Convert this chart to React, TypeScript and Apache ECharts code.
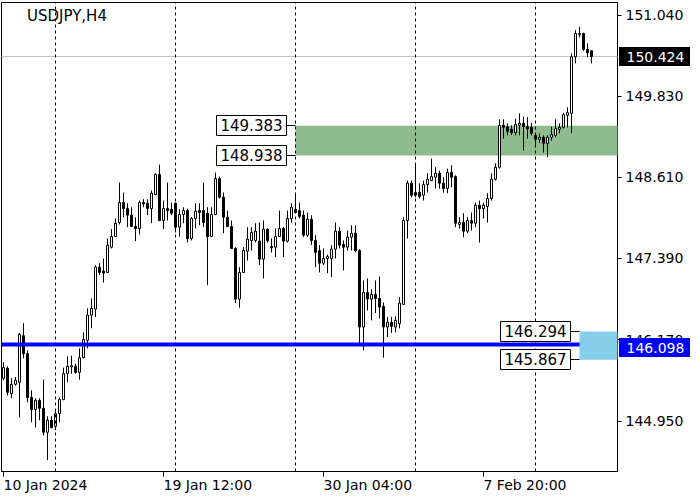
import React, { useEffect, useRef } from "react";
import * as echarts from "echarts";

const chartTitle = "USDJPY,H4";
const barHours = 4;
// [open, close, low, high]
const candles: number[][] = [
  [145.59, 145.75, 145.56, 145.83], [145.74, 145.38, 145.33, 145.77], [145.36, 145.50, 145.29, 145.59], [145.50, 145.56, 145.48, 145.61],
  [145.53, 146.25, 145.00, 146.27], [146.23, 145.96, 145.89, 146.42], [145.96, 145.30, 145.23, 146.01], [145.30, 145.12, 144.93, 145.41],
  [145.12, 145.26, 144.85, 145.29], [145.26, 145.14, 144.96, 145.29], [145.14, 144.78, 144.73, 145.57], [144.78, 144.96, 144.36, 145.02],
  [144.96, 144.85, 144.84, 145.02], [144.87, 145.06, 144.81, 145.11], [145.06, 145.27, 144.93, 145.30], [145.27, 145.66, 145.26, 145.75],
  [145.66, 145.77, 145.53, 145.92], [145.76, 145.78, 145.66, 145.93], [145.77, 145.68, 145.66, 145.81], [145.68, 145.90, 145.57, 146.04],
  [145.90, 146.17, 145.89, 146.28], [146.16, 146.54, 146.04, 146.64], [146.54, 146.64, 146.34, 146.79], [146.63, 147.26, 146.51, 147.29],
  [147.26, 147.18, 147.14, 147.32], [147.20, 147.17, 147.03, 147.39], [147.18, 147.59, 147.17, 147.69], [147.56, 147.72, 147.54, 147.83],
  [147.72, 147.92, 147.71, 147.99], [147.93, 148.23, 147.90, 148.53], [148.23, 148.14, 148.01, 148.38], [148.14, 148.04, 147.86, 148.22],
  [148.04, 147.87, 147.86, 148.16], [147.87, 147.84, 147.65, 148.01], [147.84, 148.23, 147.75, 148.26], [148.23, 148.21, 148.16, 148.28],
  [148.22, 148.14, 148.04, 148.28], [148.14, 148.37, 147.92, 148.41], [148.35, 148.65, 148.34, 148.67], [148.65, 147.96, 147.95, 148.80],
  [147.96, 148.14, 147.83, 148.26], [148.14, 148.11, 147.96, 148.53], [148.13, 148.07, 148.04, 148.23], [148.22, 147.86, 147.78, 148.23],
  [147.86, 148.05, 147.72, 148.13], [148.05, 148.11, 147.92, 148.16], [148.11, 147.69, 147.63, 148.14], [147.69, 147.99, 147.66, 148.01],
  [147.99, 148.10, 147.84, 148.22], [148.11, 148.08, 147.89, 148.22], [148.11, 147.93, 147.86, 148.53], [148.07, 147.72, 146.99, 148.16],
  [147.72, 148.05, 147.71, 148.16], [148.05, 148.59, 148.04, 148.68], [148.59, 148.31, 148.29, 148.62], [148.31, 148.01, 147.77, 148.38],
  [148.01, 147.87, 147.86, 148.11], [147.87, 147.54, 147.53, 147.96], [147.54, 146.78, 146.72, 147.56], [146.78, 147.18, 146.65, 147.26],
  [147.18, 147.51, 147.17, 147.56], [147.50, 147.68, 147.36, 147.86], [147.66, 147.78, 147.51, 147.86], [147.66, 147.80, 147.63, 147.92],
  [147.65, 147.38, 147.29, 147.93], [147.38, 147.83, 147.09, 147.96], [147.83, 147.66, 147.63, 147.84], [147.57, 147.55, 147.48, 147.69],
  [147.56, 147.72, 147.41, 147.84], [147.72, 147.84, 147.71, 148.11], [147.84, 147.65, 147.41, 147.86], [147.65, 147.99, 147.63, 148.11],
  [147.99, 148.16, 147.93, 148.22], [148.13, 148.08, 148.07, 148.37], [148.11, 148.02, 147.99, 148.23], [148.04, 147.74, 147.71, 148.11],
  [147.74, 147.98, 147.71, 148.08], [147.98, 147.66, 147.59, 148.04], [147.66, 147.48, 147.26, 147.74], [147.51, 147.32, 147.18, 147.59],
  [147.32, 147.39, 147.29, 147.54], [147.39, 147.42, 147.17, 147.45], [147.39, 147.53, 147.11, 147.59], [147.53, 147.80, 147.39, 147.93],
  [147.80, 147.59, 147.54, 147.86], [147.60, 147.56, 147.21, 147.66], [147.56, 147.71, 147.51, 147.81], [147.71, 147.77, 147.51, 147.89],
  [147.77, 147.51, 147.48, 147.89], [147.51, 146.36, 146.12, 147.53], [146.36, 146.88, 146.01, 147.06], [146.88, 146.78, 146.61, 147.09],
  [146.78, 146.85, 146.46, 146.93], [146.85, 146.79, 146.57, 147.06], [146.79, 146.66, 146.49, 147.12], [146.67, 146.36, 145.90, 146.73],
  [146.36, 146.43, 146.21, 146.51], [146.43, 146.37, 146.27, 146.51], [146.36, 146.46, 146.28, 146.52], [146.41, 146.72, 146.34, 146.81],
  [146.70, 147.96, 146.69, 148.01], [147.96, 148.52, 147.69, 148.56], [148.52, 148.34, 148.31, 148.56], [148.38, 148.34, 148.31, 148.82],
  [148.38, 148.32, 148.29, 148.52], [148.34, 148.50, 148.26, 148.56], [148.50, 148.58, 148.38, 148.67], [148.56, 148.62, 148.55, 148.89],
  [148.61, 148.67, 148.44, 148.76], [148.67, 148.52, 148.44, 148.71], [148.52, 148.44, 148.38, 148.61], [148.44, 148.68, 148.37, 148.74],
  [148.68, 148.61, 148.46, 148.79], [148.62, 147.92, 147.86, 148.64], [147.90, 147.93, 147.84, 148.01], [147.93, 147.80, 147.71, 148.07],
  [147.80, 147.96, 147.77, 148.01], [147.96, 147.92, 147.81, 148.08], [147.92, 148.19, 147.86, 148.23], [148.19, 148.14, 147.63, 148.26],
  [148.14, 148.19, 147.99, 148.23], [148.17, 148.29, 147.93, 148.37], [148.29, 148.58, 148.26, 148.67], [148.58, 148.76, 148.56, 148.82],
  [148.76, 149.39, 148.74, 149.48], [149.39, 149.36, 149.19, 149.48], [149.37, 149.30, 149.24, 149.42], [149.33, 149.28, 149.24, 149.39],
  [149.28, 149.40, 149.24, 149.49], [149.39, 149.42, 149.24, 149.57], [149.42, 149.37, 149.01, 149.52], [149.37, 149.34, 149.19, 149.51],
  [149.36, 149.27, 149.24, 149.43], [149.24, 149.18, 149.06, 149.27], [149.18, 149.21, 149.13, 149.27], [149.21, 149.12, 148.98, 149.24],
  [149.12, 149.21, 148.91, 149.24], [149.21, 149.25, 149.16, 149.37], [149.24, 149.34, 149.21, 149.48], [149.33, 149.36, 149.27, 149.42],
  [149.36, 149.55, 149.34, 149.58], [149.54, 149.58, 149.36, 149.66], [149.57, 150.42, 149.27, 150.47], [150.42, 150.77, 150.32, 150.82],
  [150.75, 150.77, 150.71, 150.87], [150.77, 150.53, 150.51, 150.78], [150.53, 150.48, 150.41, 150.62], [150.51, 150.424, 150.32, 150.52],
];
const emptyBarsOnRight = 6;

const xTickIndex = [0, 40, 80, 120];
const xTickLabels = ["10 Jan 2024", "19 Jan 12:00", "30 Jan 04:00", "7 Feb 20:00"];
const yTickValues = [144.95, 146.17, 147.39, 148.61, 149.83, 151.04];
const yRange = [144.19, 151.235];

const currentPrice = 150.424;
const supportLevel = 146.098;
const greenZone = { high: 149.383, low: 148.938, fromBar: 73 };
const blueZone = { high: 146.294, low: 145.867, fromBar: 144 };

const FONT = '"DejaVu Sans", Verdana, sans-serif';
const W = 700;
const H = 500;
const GRID = { left: 1.5, right: 82.5, top: 2.5, bottom: 28.5 };

function buildTimes(n: number): Date[] {
  const out: Date[] = [];
  let t = Date.UTC(2024, 0, 10, 20);
  while (out.length < n) {
    const d = new Date(t);
    const wd = d.getUTCDay();
    if (wd !== 0 && wd !== 6) out.push(d);
    t += barHours * 3600 * 1000;
  }
  return out;
}

const pad = (n: number) => String(n).padStart(2, "0");

export default function App() {
  const ref = useRef<HTMLDivElement>(null);
  useEffect(() => {
    if (!ref.current) return;
    const chart = echarts.init(ref.current, null, { renderer: "svg" });
    const times = buildTimes(candles.length + emptyBarsOnRight);
    const categories = times.map(
      (d) => `${d.getUTCFullYear()}.${pad(d.getUTCMonth() + 1)}.${pad(d.getUTCDate())} ${pad(d.getUTCHours())}:00`
    );
    const weekStarts = times
      .map((d, i) => (d.getUTCDay() === 1 && d.getUTCHours() === 0 ? i : -1))
      .filter((i) => i >= 0 && i < candles.length);

    chart.setOption({
      animation: false,
      backgroundColor: "#ffffff",
      textStyle: { fontFamily: FONT },
      grid: { ...GRID, show: true, borderColor: "#000", borderWidth: 1, backgroundColor: "transparent" },
      xAxis: {
        type: "category",
        data: categories,
        boundaryGap: true,
        axisLine: { show: true, lineStyle: { color: "#000", width: 1 } },
        axisTick: {
          show: true,
          alignWithLabel: true,
          length: 5,
          interval: (i: number) => xTickIndex.includes(i),
          lineStyle: { color: "#000" },
        },
        axisLabel: {
          show: true,
          interval: (i: number) => xTickIndex.includes(i),
          formatter: (_v: string, i: number) => {
            const k = xTickIndex.indexOf(i);
            return k >= 0 ? xTickLabels[k] : "";
          },
          align: "left",
          color: "#000",
          fontSize: 14,
          fontFamily: FONT,
          margin: 6,
          hideOverlap: false,
        },
        splitLine: { show: false },
      },
      yAxis: {
        type: "value",
        position: "right",
        min: yRange[0],
        max: yRange[1],
        scale: true,
        axisLine: { show: true, lineStyle: { color: "#000" } },
        axisTick: { show: true, length: 4, customValues: yTickValues, lineStyle: { color: "#000" } },
        axisLabel: {
          show: true,
          customValues: yTickValues,
          formatter: (v: number) => v.toFixed(3),
          color: "#000",
          fontSize: 14,
          fontFamily: FONT,
          margin: 8,
        },
        splitLine: { show: false },
      },
      series: [
        {
          type: "candlestick",
          data: candles,
          barWidth: 2,
          itemStyle: {
            color: "#ffffff",
            color0: "#000000",
            borderColor: "#000000",
            borderColor0: "#000000",
            borderColorDoji: "#000000",
            borderWidth: 1,
          },
          markLine: {
            silent: true,
            symbol: ["none", "none"],
            label: { show: false },
            lineStyle: { color: "#000", type: [3, 3], width: 1 },
            data: weekStarts.map((i) => ({ xAxis: i })),
          },
        },
      ],
    });

    const pt = (bar: number, price: number) =>
      chart.convertToPixel({ gridIndex: 0 }, [bar, price]) as unknown as number[];
    const yOf = (p: number) => pt(0, p)[1];
    const xOf = (i: number) => pt(i, yRange[0])[0];
    const gridL = GRID.left;
    const gridR = W - GRID.right;

    const els: any[] = [];
    // green zone
    const gx = xOf(greenZone.fromBar);
    els.push({
      type: "rect",
      z: 1,
      silent: true,
      shape: { x: gx, y: yOf(greenZone.high), width: gridR - gx, height: yOf(greenZone.low) - yOf(greenZone.high) },
      style: { fill: "#8fbc8f" },
    });
    // current price line
    const yc = Math.round(yOf(currentPrice) - 0.5) + 0.5;
    els.push({
      type: "line",
      z: 1,
      silent: true,
      shape: { x1: gridL, y1: yc, x2: gridR, y2: yc },
      style: { stroke: "#c0c0c0", lineWidth: 1 },
    });
    // support line
    const ys = yOf(supportLevel);
    els.push({
      type: "line",
      z: 3,
      silent: true,
      shape: { x1: gridL, y1: ys, x2: gridR, y2: ys },
      style: { stroke: "#0000ff", lineWidth: 4 },
    });
    // blue zone
    const bx = xOf(blueZone.fromBar);
    els.push({
      type: "rect",
      z: 4,
      silent: true,
      shape: { x: bx, y: yOf(blueZone.high), width: gridR - bx, height: yOf(blueZone.low) - yOf(blueZone.high) },
      style: { fill: "#87ceeb" },
    });
    // zone level labels
    const levelLabels = [
      { v: greenZone.high, x: gx },
      { v: greenZone.low, x: gx },
      { v: blueZone.high, x: bx },
      { v: blueZone.low, x: bx },
    ];
    levelLabels.forEach(({ v, x }) => {
      const y = Math.round(yOf(v) - 0.5) + 0.5;
      const right = Math.round(x - 10) + 0.5;
      const bw = 70;
      const bh = 20;
      els.push({
        type: "rect",
        z: 5,
        silent: true,
        shape: { x: right - bw, y: y - bh / 2, width: bw, height: bh },
        style: { fill: "#ffffff", stroke: "#000000", lineWidth: 1 },
      });
      els.push({
        type: "line",
        z: 5,
        silent: true,
        shape: { x1: right, y1: y, x2: x, y2: y },
        style: { stroke: "#000000", lineWidth: 1 },
      });
      els.push({
        type: "text",
        z: 6,
        silent: true,
        x: right - bw / 2,
        y: y + 0.5,
        style: {
          text: v.toFixed(3),
          fill: "#000000",
          font: `15px ${FONT}`,
          textAlign: "center",
          textVerticalAlign: "middle",
          verticalAlign: "middle",
        },
      });
    });
    // price tags on the axis
    const tags = [
      { v: currentPrice, bg: "#000000", dy: 0 },
      { v: supportLevel, bg: "#0000ff", dy: 3 },
    ];
    tags.forEach(({ v, bg, dy }) => {
      const y = yOf(v) + dy;
      els.push({
        type: "rect",
        z: 10,
        silent: true,
        shape: { x: gridR + 1.5, y: y - 9.5, width: 71, height: 19 },
        style: { fill: bg },
      });
      els.push({
        type: "text",
        z: 11,
        silent: true,
        x: gridR + 9,
        y: y + 0.5,
        style: {
          text: v.toFixed(3),
          fill: "#ffffff",
          font: `14px ${FONT}`,
          textAlign: "left",
          textVerticalAlign: "middle",
          verticalAlign: "middle",
        },
      });
    });
    // title
    els.push({
      type: "text",
      z: 11,
      silent: true,
      x: 27,
      y: 16,
      style: {
        text: chartTitle,
        fill: "#000000",
        font: `15px ${FONT}`,
        textAlign: "left",
        textVerticalAlign: "middle",
        verticalAlign: "middle",
      },
    });

    chart.setOption({ graphic: { elements: els } });

    return () => chart.dispose();
  }, []);

  return (
    <div
      ref={ref}
      style={{ position: "absolute", left: 0, top: 0, width: W, height: H, background: "#fff" }}
    />
  );
}
